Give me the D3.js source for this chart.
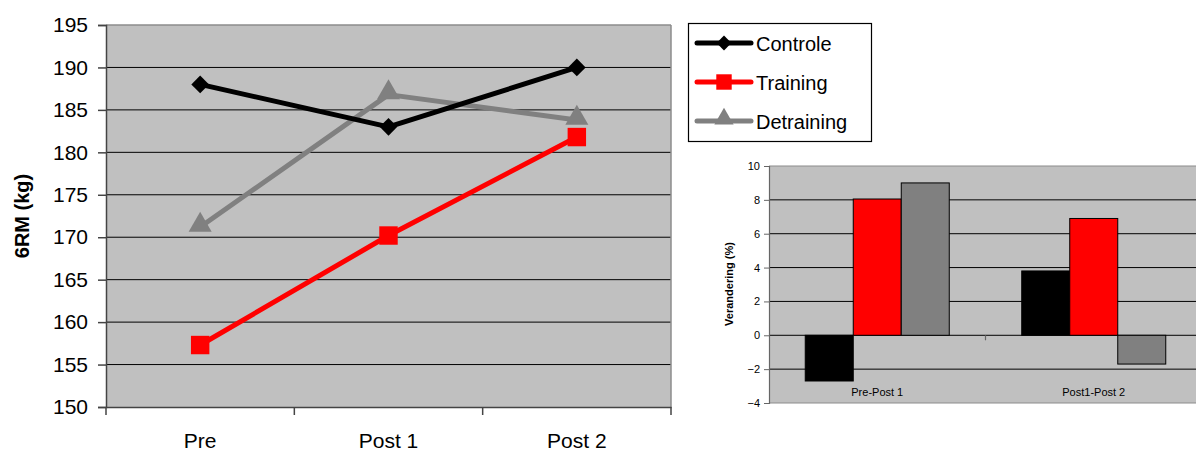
<!DOCTYPE html>
<html><head><meta charset="utf-8">
<script src="https://cdn.jsdelivr.net/npm/d3@7"></script>
<style>body{margin:0;background:#fff;}svg{display:block;font-family:"Liberation Sans",Arial,sans-serif;}</style>
</head><body>
<svg id="c" width="1196" height="451"></svg>
<script>
const timepoints = ["Pre", "Post 1", "Post 2"];
const seriesNames = ["Controle", "Training", "Detraining"];
const controle = [188, 183, 190];
const training = [157.3, 170.2, 181.8];
const detraining = [171.2, 186.8, 183.8];
const yTicks = [150, 155, 160, 165, 170, 175, 180, 185, 190, 195];

const changeCats = ["Pre-Post 1", "Post1-Post 2"];
const changeControle = [-2.7, 3.8];
const changeTraining = [8.05, 6.9];
const changeDetraining = [9.0, -1.7];
const changeTicks = [-4, -2, 0, 2, 4, 6, 8, 10];

const colors = {Controle: "#000000", Training: "#ff0000", Detraining: "#808080"};
const svg = d3.select("#c");

// ---------- main line chart ----------
const M = {l: 106, r: 671, t: 25, b: 407};
const x = d3.scaleBand().domain(timepoints).range([M.l, M.r]);
const y = d3.scaleLinear().domain([150, 195]).range([M.b, M.t]);
const g = svg.append("g");
g.append("rect").attr("x", M.l).attr("y", M.t).attr("width", M.r - M.l).attr("height", M.b - M.t).attr("fill", "#c0c0c0");
g.selectAll(".grid").data(yTicks.slice(1, -1)).join("line")
  .attr("x1", M.l).attr("x2", M.r).attr("y1", d => y(d)).attr("y2", d => y(d))
  .attr("stroke", "#000").attr("stroke-width", 1);
g.append("line").attr("x1", M.l).attr("x2", M.r).attr("y1", M.t).attr("y2", M.t).attr("stroke", "#8c8c8c").attr("stroke-width", 1.5);
g.append("line").attr("x1", M.r).attr("x2", M.r).attr("y1", M.t).attr("y2", M.b).attr("stroke", "#8c8c8c").attr("stroke-width", 1.5);
const yAxis = d3.axisLeft(y).tickValues(yTicks).tickSize(8).tickPadding(10);
const ya = g.append("g").attr("transform", `translate(${M.l},0)`).call(yAxis);
ya.select(".domain").attr("stroke", "#444").attr("stroke-width", 1.5);
ya.selectAll(".tick line").attr("stroke", "#444").attr("stroke-width", 1.5);
ya.selectAll("text").attr("font-size", 21).attr("fill", "#000").attr("font-family", "Liberation Sans, Arial, sans-serif");
const xAxis = d3.axisBottom(x).tickSize(0).tickPadding(26);
const xa = g.append("g").attr("transform", `translate(0,${M.b})`).call(xAxis);
xa.select(".domain").attr("stroke", "#444").attr("stroke-width", 1.5);
xa.selectAll("text").attr("font-size", 21).attr("fill", "#000").attr("font-family", "Liberation Sans, Arial, sans-serif");
const seps = [M.l, ...timepoints.map(t => x(t) + x.bandwidth())];
g.selectAll(".sep").data(seps).join("line")
  .attr("x1", d => d).attr("x2", d => d).attr("y1", M.b).attr("y2", M.b + 8)
  .attr("stroke", "#444").attr("stroke-width", 1.5);
g.append("text").attr("transform", `translate(29,${(M.t + M.b) / 2}) rotate(-90)`)
  .attr("text-anchor", "middle").attr("font-size", 20).attr("font-weight", "bold").text("6RM (kg)");

const series = [
  {name: "Controle", values: controle, sym: d3.symbolDiamond2, size: 200},
  {name: "Training", values: training, sym: d3.symbolSquare, size: 340},
  {name: "Detraining", values: detraining, sym: d3.symbolTriangle, size: 230},
];
const cx = t => x(t) + x.bandwidth() / 2;
const line = d3.line().x((d, i) => cx(timepoints[i])).y(d => y(d));
series.slice().reverse().forEach(s => {
  g.append("path").attr("d", line(s.values)).attr("fill", "none")
    .attr("stroke", colors[s.name]).attr("stroke-width", 5).attr("stroke-linejoin", "round");
});
series.slice().reverse().forEach(s => {
  g.selectAll(null).data(s.values).join("path")
    .attr("transform", (d, i) => `translate(${cx(timepoints[i])},${y(d) - (s.name === "Detraining" ? 2 : 0)})`)
    .attr("d", d3.symbol().type(s.sym).size(s.size)).attr("fill", colors[s.name]);
});

// legend
const L = svg.append("g");
L.append("rect").attr("x", 688.5).attr("y", 23.5).attr("width", 183).attr("height", 118)
  .attr("fill", "#fff").attr("stroke", "#000").attr("stroke-width", 1.2);
series.forEach((s, i) => {
  const ly = 43 + i * 39;
  L.append("line").attr("x1", 697).attr("x2", 751).attr("y1", ly).attr("y2", ly)
    .attr("stroke", colors[s.name]).attr("stroke-width", 5).attr("stroke-linecap", "round");
  L.append("path").attr("transform", `translate(724,${ly - (s.name === "Detraining" ? 2 : 0)})`)
    .attr("d", d3.symbol().type(s.sym).size(s.size * 0.7)).attr("fill", colors[s.name]);
  L.append("text").attr("x", 756).attr("y", ly + 7.5).attr("font-size", 20).text(s.name);
});

// ---------- change bar chart ----------
const B = {l: 769, r: 1202, t: 166, b: 403};
const bx = d3.scaleBand().domain(changeCats).range([B.l, B.r]);
const by = d3.scaleLinear().domain([-4, 10]).range([B.b, B.t]);
const inner = d3.scaleBand().domain(seriesNames).range([0, bx.bandwidth()]).paddingInner(0).paddingOuter(0.755);
const h = svg.append("g");
h.append("rect").attr("x", B.l).attr("y", B.t).attr("width", B.r - B.l).attr("height", B.b - B.t).attr("fill", "#c0c0c0");
h.selectAll(".grid").data(changeTicks.slice(1, -1)).join("line")
  .attr("x1", B.l).attr("x2", B.r).attr("y1", d => by(d)).attr("y2", d => by(d))
  .attr("stroke", "#000").attr("stroke-width", 1);
h.append("line").attr("x1", B.l).attr("x2", B.r).attr("y1", B.t).attr("y2", B.t).attr("stroke", "#8c8c8c").attr("stroke-width", 1.2);
h.append("line").attr("x1", B.l).attr("x2", B.r).attr("y1", B.b).attr("y2", B.b).attr("stroke", "#8c8c8c").attr("stroke-width", 1.2);
const byAxis = d3.axisLeft(by).tickValues(changeTicks).tickSize(5).tickPadding(4);
const bya = h.append("g").attr("transform", `translate(${B.l},0)`).call(byAxis);
bya.select(".domain").attr("stroke", "#666").attr("stroke-width", 1.2);
bya.selectAll(".tick line").attr("stroke", "#666");
bya.selectAll("text").attr("font-size", 11).attr("fill", "#000").attr("font-family", "Liberation Sans, Arial, sans-serif");
h.append("text").attr("transform", `translate(733,284) rotate(-90)`)
  .attr("text-anchor", "middle").attr("font-size", 11).attr("font-weight", "bold").text("Verandering (%)");
const changeSeries = [
  {name: "Controle", values: changeControle},
  {name: "Training", values: changeTraining},
  {name: "Detraining", values: changeDetraining},
];
changeSeries.forEach(s => {
  h.selectAll(null).data(s.values).join("rect")
    .attr("x", (d, i) => bx(changeCats[i]) + inner(s.name))
    .attr("width", inner.bandwidth())
    .attr("y", d => by(Math.max(0, d)))
    .attr("height", d => Math.abs(by(d) - by(0)))
    .attr("fill", colors[s.name]).attr("stroke", "#000").attr("stroke-width", 1);
});
h.append("line").attr("x1", bx(changeCats[1])).attr("x2", bx(changeCats[1]))
  .attr("y1", by(0)).attr("y2", by(0) + 5).attr("stroke", "#666").attr("stroke-width", 1.2);
h.selectAll(".cl").data(changeCats).join("text")
  .attr("x", d => bx(d) + bx.bandwidth() / 2).attr("y", 396)
  .attr("text-anchor", "middle").attr("font-size", 11).text(d => d);
</script>
</body></html>
